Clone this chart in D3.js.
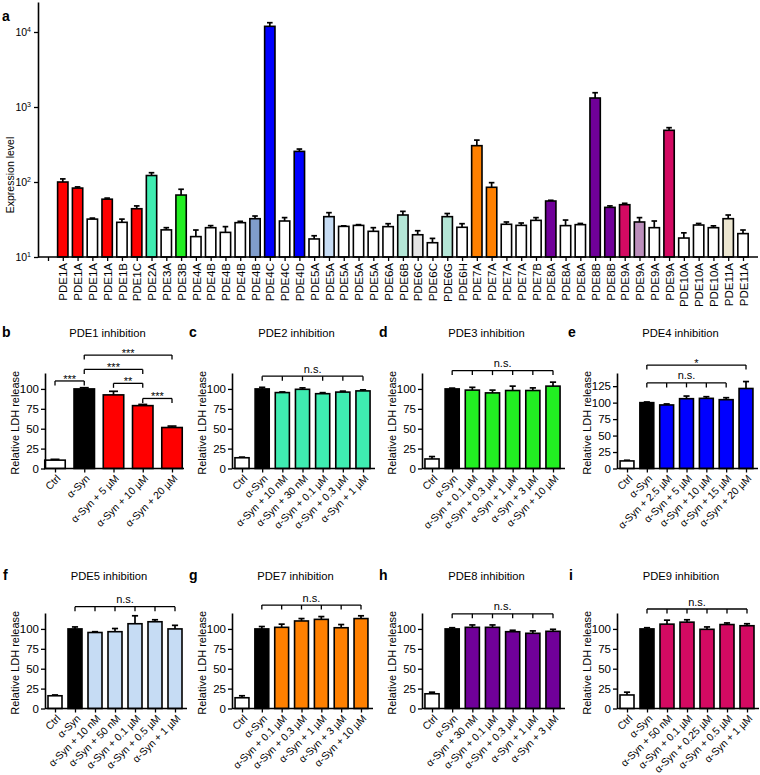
<!DOCTYPE html>
<html><head><meta charset="utf-8">
<script src="https://cdn.jsdelivr.net/npm/d3@7"></script>
<style>
body{margin:0;background:#fff}
svg{font-family:"Liberation Sans",Arial,Helvetica,sans-serif}
</style>
</head><body>
<svg id="chart" width="760" height="775"></svg>
<script>
// ---------- Panel a data ----------
const pdeGenes = ["PDE1A","PDE1A","PDE1A","PDE1A","PDE1B","PDE1C","PDE2A","PDE3A","PDE3B","PDE4A",
  "PDE4B","PDE4B","PDE4B","PDE4B","PDE4C","PDE4C","PDE4D","PDE5A","PDE5A","PDE5A","PDE5A","PDE5A",
  "PDE6A","PDE6B","PDE6C","PDE6C","PDE6G","PDE6H","PDE7A","PDE7A","PDE7A","PDE7A","PDE7B",
  "PDE8A","PDE8A","PDE8A","PDE8B","PDE8B","PDE9A","PDE9A","PDE9A","PDE9A",
  "PDE10A","PDE10A","PDE10A","PDE11A","PDE11A"];
const pdeExpression = [100,83,32,59,29,44,122,23,67,18.7,
  24.6,21.3,28.7,32.4,11900,30.2,256,17.4,34.5,25.6,26.4,22,
  25.4,36.3,19.8,15.5,34.5,24.9,305,85,27.3,26.4,30.8,
  55.8,26.2,27,1318,45.9,49.8,29.3,24.6,489,
  17.9,26.7,24.6,32.4,20.5];
const pdeUpper = [110,86,33,61,32,48,133,24.6,80,22.9,
  26.2,25.4,29.9,35.2,13300,33.5,275,19.2,39,26,27,24.6,
  27.8,40.6,22.4,17.7,38,27.8,362,98,29.3,28.4,33.5,
  57,31.1,28,1550,48,52,33.5,30.2,530,
  21,28,26,36.3,22.9];
const pdeGroup = ["PDE1","PDE1","none","PDE1","none","PDE1","PDE2","none","PDE3","none",
  "none","none","none","PDE4b","PDE4","none","PDE4","none","PDE5","none","none","none",
  "none","PDE6","PDE6c","none","PDE6","none","PDE7","PDE7","none","none","none",
  "PDE8","none","none","PDE8","PDE8","PDE9","PDE9b","none","PDE9",
  "none","none","none","PDE11","none"];
const expressionTicks = [10,100,1000,10000];

// ---------- Panels b-i data ----------
const pde1Labels = ["Ctrl","α-Syn","α-Syn + 5 µM","α-Syn + 10 µM","α-Syn + 20 µM"];
const pde1Values = [10.5,100,92.5,79,51.5];
const pde1Sem = [1,1.5,4.5,1.5,1.8];

const pde2Labels = ["Ctrl","α-Syn","α-Syn + 10 nM","α-Syn + 30 nM","α-Syn + 0.1 µM","α-Syn + 0.3 µM","α-Syn + 1 µM"];
const pde2Values = [13.5,100,95.4,99.5,94,96,97.5];
const pde2Sem = [0.8,2,0.8,1.8,1.3,1.2,1.3];

const pde3Labels = ["Ctrl","α-Syn","α-Syn + 0.1 µM","α-Syn + 0.3 µM","α-Syn + 1 µM","α-Syn + 3 µM","α-Syn + 10 µM"];
const pde3Values = [12,100,98.5,95,98,98,103.5];
const pde3Sem = [3,1,3.5,3.5,5.5,3.3,5];

const pde4Labels = ["Ctrl","α-Syn","α-Syn + 2.5 µM","α-Syn + 5 µM","α-Syn + 10 µM","α-Syn + 15 µM","α-Syn + 20 µM"];
const pde4Values = [11.5,100,96.5,106,106.5,104.5,121.5];
const pde4Sem = [1,1,1.5,4,2.5,3,10.5];

const pde5Labels = ["Ctrl","α-Syn","α-Syn + 10 nM","α-Syn + 50 nM","α-Syn + 0.1 µM","α-Syn + 0.5 µM","α-Syn + 1 µM"];
const pde5Values = [16,100,95.5,96.5,106.5,109,100];
const pde5Sem = [1,2.5,1,4,10,2.5,4.5];

const pde7Labels = ["Ctrl","α-Syn","α-Syn + 0.1 µM","α-Syn + 0.3 µM","α-Syn + 1 µM","α-Syn + 3 µM","α-Syn + 10 µM"];
const pde7Values = [13.5,100,102,110,112,101.5,113];
const pde7Sem = [2.5,3,4,3,3.5,4,3.5];

const pde8Labels = ["Ctrl","α-Syn","α-Syn + 30 nM","α-Syn + 0.1 µM","α-Syn + 0.3 µM","α-Syn + 1 µM","α-Syn + 3 µM"];
const pde8Values = [18.5,100,102,102,96.5,94.5,97];
const pde8Sem = [2,1.5,3,3,1.8,3,2.5];

const pde9Labels = ["Ctrl","α-Syn","α-Syn + 50 nM","α-Syn + 0.1 µM","α-Syn + 0.25 µM","α-Syn + 0.5 µM","α-Syn + 1 µM"];
const pde9Values = [17,100,106,108.5,99.5,105.5,104];
const pde9Sem = [3.5,1.5,5,3,3,2,2.5];

// significance brackets: from/to bar index, level in data units
const pde1Sig = [{from:0,to:1,level:110,text:"***"},{from:1,to:3,level:124.5,text:"***"},
  {from:1,to:4,level:142.5,text:"***"},{from:2,to:3,level:107,text:"**"},{from:3,to:4,level:88,text:"***"}];
const pde2Sig = [{from:1,to:6,level:116,text:"n.s.",all:true}];
const pde3Sig = [{from:1,to:6,level:123,text:"n.s.",all:true}];
const pde4Sig = [{from:1,to:6,level:157,text:"*"},{from:1,to:5,level:130,text:"n.s.",all:true}];
const pde5Sig = [{from:1,to:6,level:128,text:"n.s.",all:true}];
const pde7Sig = [{from:1,to:6,level:130,text:"n.s.",all:true}];
const pde8Sig = [{from:1,to:6,level:119,text:"n.s.",all:true}];
const pde9Sig = [{from:1,to:6,level:125,text:"n.s.",all:true}];
const ldhTicks = [0,25,50,75,100];
const ldhTicksWide = [0,25,50,75,100,125];

// ---------- styles ----------
const groupColor = {none:"#ffffff",PDE1:"#ff0000",PDE2:"#3fecb1",PDE3:"#22ee22",PDE4b:"#7f9ccb",
  PDE4:"#0000ff",PDE5:"#c6dcf4",PDE6:"#b4e6d6",PDE6c:"#e4e4e4",PDE7:"#ff8000",PDE8:"#700099",
  PDE9:"#d30a62",PDE9b:"#bb8ebb",PDE11:"#ece6d0"};
const FONT = "Liberation Sans, Arial, sans-serif";

const svg = d3.select("#chart");

// ---------- Panel a ----------
(function(){
  const x0 = 38, x1 = 758, base = 257, top = 2;
  const x = d3.scalePoint().domain(d3.range(pdeGenes.length + 1)).range([48, 743]);
  const y = d3.scaleLog().domain([10, Math.pow(10, 4.4)]).range([base, top]);
  const bw = x.step() * 0.7;
  const g = svg.append("g");
  const data = pdeGenes.map((n,i)=>({name:n,v:pdeExpression[i],u:pdeUpper[i],grp:pdeGroup[i],pos:i+1}));
  g.selectAll("line.err").data(data).join("line")
    .attr("x1",d=>x(d.pos)).attr("x2",d=>x(d.pos)).attr("y1",d=>y(d.v)).attr("y2",d=>y(d.u))
    .attr("stroke","#000").attr("stroke-width",1.7);
  g.selectAll("line.cap").data(data).join("line")
    .attr("x1",d=>x(d.pos)-2.8).attr("x2",d=>x(d.pos)+2.8).attr("y1",d=>y(d.u)).attr("y2",d=>y(d.u))
    .attr("stroke","#000").attr("stroke-width",1.7);
  g.selectAll("rect").data(data).join("rect")
    .attr("x",d=>x(d.pos)-bw/2).attr("width",bw)
    .attr("y",d=>y(d.v)).attr("height",d=>base-y(d.v))
    .attr("fill",d=>groupColor[d.grp]).attr("stroke","#000").attr("stroke-width",1.6);
  const xa = g.append("g").attr("transform",`translate(0,${base})`)
    .call(d3.axisBottom(x).tickSize(4).tickSizeOuter(0).tickFormat(i=> i===0 ? "" : pdeGenes[i-1]));
  xa.select(".domain").remove();
  xa.selectAll(".tick line").attr("stroke-width",1.3);
  xa.selectAll("text").attr("transform","rotate(-90)").attr("x",-6).attr("y",0).attr("dy","0.36em")
    .attr("text-anchor","end").attr("font-size",11.5).attr("font-family",FONT).attr("fill","#000");
  g.append("line").attr("x1",x0).attr("x2",x1).attr("y1",base).attr("y2",base).attr("stroke","#000").attr("stroke-width",1.6);
  const ya = g.append("g").attr("transform",`translate(${x0},0)`)
    .call(d3.axisLeft(y).tickValues(expressionTicks).tickSize(4).tickSizeOuter(0).tickFormat(""));
  ya.select(".domain").attr("stroke-width",1.6);
  ya.selectAll(".tick line").attr("stroke-width",1.3);
  expressionTicks.forEach(t=>{
    const tx = g.append("text").attr("x",x0-7).attr("y",y(t)).attr("dy","0.35em")
      .attr("text-anchor","end").attr("font-size",10.5);
    tx.append("tspan").text("10");
    tx.append("tspan").attr("dy",-4).attr("font-size",7).text(Math.round(Math.log10(t)));
  });
  g.append("text").attr("transform",`translate(14,175) rotate(-90)`).attr("text-anchor","middle")
    .attr("font-size",10.5).text("Expression level");
  svg.append("text").attr("x",2).attr("y",21).attr("font-size",14).attr("font-weight","bold").text("a");
})();

// ---------- Panels b-i ----------
const rows = [{base:468.5, top:373, titleY:337},{base:708.5, top:613, titleY:580}];
const panels = [
  {letter:"b",title:"PDE1 inhibition",labels:pde1Labels,values:pde1Values,sem:pde1Sem,sig:pde1Sig,color:"#ff0000",yMax:120,ticks:ldhTicks,x0:45,x1:184,row:0,lx:2},
  {letter:"c",title:"PDE2 inhibition",labels:pde2Labels,values:pde2Values,sem:pde2Sem,sig:pde2Sig,color:"#3fecb1",yMax:120,ticks:ldhTicks,x0:232,x1:375,row:0,lx:189},
  {letter:"d",title:"PDE3 inhibition",labels:pde3Labels,values:pde3Values,sem:pde3Sem,sig:pde3Sig,color:"#22ee22",yMax:120,ticks:ldhTicks,x0:422,x1:565,row:0,lx:379},
  {letter:"e",title:"PDE4 inhibition",labels:pde4Labels,values:pde4Values,sem:pde4Sem,sig:pde4Sig,color:"#0000ff",yMax:145,ticks:ldhTicksWide,x0:617,x1:758,row:0,lx:568},
  {letter:"f",title:"PDE5 inhibition",labels:pde5Labels,values:pde5Values,sem:pde5Sem,sig:pde5Sig,color:"#c6dcf4",yMax:120,ticks:ldhTicks,x0:45,x1:187,row:1,lx:3},
  {letter:"g",title:"PDE7 inhibition",labels:pde7Labels,values:pde7Values,sem:pde7Sem,sig:pde7Sig,color:"#ff8000",yMax:120,ticks:ldhTicks,x0:232,x1:373,row:1,lx:189},
  {letter:"h",title:"PDE8 inhibition",labels:pde8Labels,values:pde8Values,sem:pde8Sem,sig:pde8Sig,color:"#700099",yMax:120,ticks:ldhTicks,x0:422,x1:565,row:1,lx:379},
  {letter:"i",title:"PDE9 inhibition",labels:pde9Labels,values:pde9Values,sem:pde9Sem,sig:pde9Sig,color:"#d30a62",yMax:120,ticks:ldhTicks,x0:617,x1:759,row:1,lx:569}
];

panels.forEach(p=>{
  const r = rows[p.row];
  const n = p.labels.length;
  const x = d3.scalePoint().domain(d3.range(n)).range([p.x0+10, p.x1-12]);
  const y = d3.scaleLinear().domain([0,p.yMax]).range([r.base, r.top]);
  const bw = x.step()*0.7;
  const g = svg.append("g");
  const data = p.labels.map((l,i)=>({i, v:p.values[i], s:p.sem[i]}));
  const fill = i => i===0 ? "#ffffff" : (i===1 ? "#000000" : p.color);
  g.selectAll("line.err").data(data).join("line")
    .attr("x1",d=>x(d.i)).attr("x2",d=>x(d.i)).attr("y1",d=>y(d.v)).attr("y2",d=>y(d.v+d.s))
    .attr("stroke","#000").attr("stroke-width",1.7);
  g.selectAll("line.cap").data(data).join("line")
    .attr("x1",d=>x(d.i)-bw*0.22).attr("x2",d=>x(d.i)+bw*0.22).attr("y1",d=>y(d.v+d.s)).attr("y2",d=>y(d.v+d.s))
    .attr("stroke","#000").attr("stroke-width",1.7);
  g.selectAll("rect").data(data).join("rect")
    .attr("x",d=>x(d.i)-bw/2).attr("width",bw)
    .attr("y",d=>y(d.v)).attr("height",d=>r.base-y(d.v))
    .attr("fill",d=>fill(d.i)).attr("stroke","#000").attr("stroke-width",1.6);
  const xa = g.append("g").attr("transform",`translate(0,${r.base})`)
    .call(d3.axisBottom(x).tickSize(4).tickSizeOuter(0).tickFormat(i=>p.labels[i]));
  xa.select(".domain").remove();
  xa.selectAll(".tick line").attr("stroke-width",1.3);
  xa.selectAll("text").attr("x",0).attr("y",0).attr("dy","0.35em")
    .attr("transform","translate(3,8) rotate(-45)")
    .attr("text-anchor","end").attr("font-size",10.4).attr("font-family",FONT).attr("fill","#000");
  g.append("line").attr("x1",p.x0).attr("x2",p.x1).attr("y1",r.base).attr("y2",r.base).attr("stroke","#000").attr("stroke-width",1.6);
  const ya = g.append("g").attr("transform",`translate(${p.x0},0)`)
    .call(d3.axisLeft(y).tickValues(p.ticks).tickSize(4).tickSizeOuter(0).tickPadding(2));
  ya.select(".domain").attr("stroke-width",1.6);
  ya.selectAll(".tick line").attr("stroke-width",1.3);
  ya.selectAll("text").attr("font-size",11.5).attr("font-family",FONT).attr("fill","#000");
  g.append("text").attr("transform",`translate(${p.x0-26},${(r.base+r.top)/2+2}) rotate(-90)`)
    .attr("text-anchor","middle").attr("font-size",11).text("Relative LDH release");
  g.append("text").attr("x",(p.x0+p.x1)/2-7).attr("y",r.titleY).attr("text-anchor","middle")
    .attr("font-size",11.2).text(p.title);
  g.append("text").attr("x",p.lx).attr("y",r.titleY).attr("font-size",14).attr("font-weight","bold").text(p.letter);
  p.sig.forEach(s=>{
    const yy = y(s.level);
    const xa1 = x(s.from), xb1 = x(s.to);
    const tickIdx = s.all ? d3.range(s.from, s.to+1) : [s.from, s.to];
    g.append("line").attr("x1",xa1).attr("x2",xb1).attr("y1",yy).attr("y2",yy).attr("stroke","#000").attr("stroke-width",1.3);
    tickIdx.forEach(i=>{
      g.append("line").attr("x1",x(i)).attr("x2",x(i)).attr("y1",yy).attr("y2",yy+4.5).attr("stroke","#000").attr("stroke-width",1.3);
    });
    const isStar = s.text.indexOf("*")>=0;
    g.append("text").attr("x",(xa1+xb1)/2).attr("y", isStar ? yy+2 : yy-3.5)
      .attr("text-anchor","middle").attr("font-size",11).text(s.text);
  });
});
</script>
</body></html>
